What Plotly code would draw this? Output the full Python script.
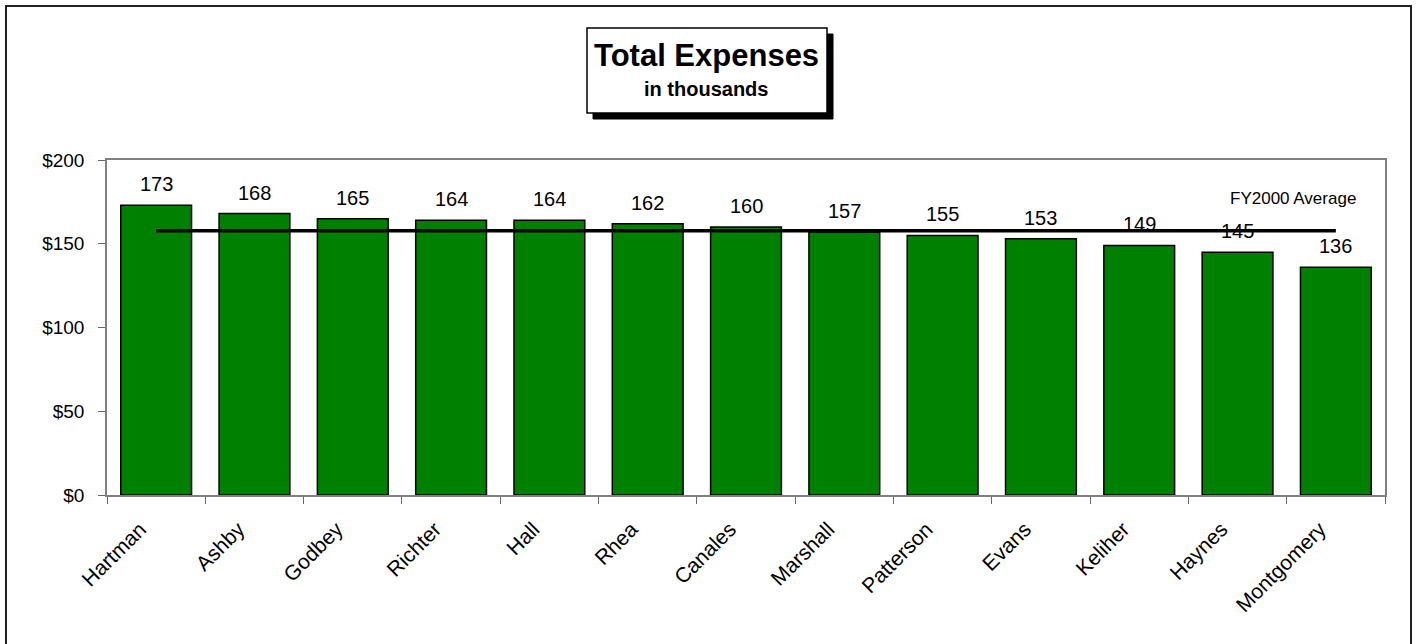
import plotly.graph_objects as go

names = ["Hartman", "Ashby", "Godbey", "Richter", "Hall", "Rhea", "Canales",
         "Marshall", "Patterson", "Evans", "Keliher", "Haynes", "Montgomery"]
expenses = [173, 168, 165, 164, 164, 162, 160, 157, 155, 153, 149, 145, 136]
average_value = 157.8
y_ticks = [0, 50, 100, 150, 200]
y_tick_labels = ["$0", "$50", "$100", "$150", "$200"]

FONT = "Liberation Sans, Arial, sans-serif"

FW, FH = 1418, 644
# plot-area pixel geometry
L, R, T, B = 107, 1385, 160, 495
W, H = R - L, B - T


def px(x):
    return (x - L) / W


def py(y):
    return (B - y) / H


fig = go.Figure()
fig.add_trace(go.Bar(
    x=names, y=expenses,
    marker=dict(color="#008000", line=dict(color="black", width=1.5)),
    hoverinfo="x+y", showlegend=False,
))
fig.add_trace(go.Scatter(
    x=[names[0], names[-1]], y=[average_value, average_value],
    mode="lines", line=dict(color="black", width=3.5),
    showlegend=False, hoverinfo="skip",
))

annotations = []
for n, v in zip(names, expenses):
    annotations.append(dict(
        x=n, y=v, text=str(v), showarrow=False, yanchor="bottom",
        yshift=8, font=dict(family=FONT, size=20, color="black"),
    ))

annotations.append(dict(
    x=px(1358), y=py(198), xref="paper", yref="paper", text="FY2000 Average",
    showarrow=False, xanchor="right", yanchor="middle",
    font=dict(family=FONT, size=17, color="black"),
))
annotations.append(dict(
    x=px(706), y=py(56), xref="paper", yref="paper", text="<b>Total Expenses</b>",
    showarrow=False, xanchor="center", yanchor="middle",
    font=dict(family=FONT, size=31, color="black"),
))
annotations.append(dict(
    x=px(706), y=py(89), xref="paper", yref="paper", text="<b>in thousands</b>",
    showarrow=False, xanchor="center", yanchor="middle",
    font=dict(family=FONT, size=20, color="black"),
))

shapes = [
    # outer frame
    dict(type="rect", xref="paper", yref="paper",
         x0=px(6), x1=px(1411), y0=py(700), y1=py(6),
         line=dict(color="#222222", width=2), layer="below"),
    # title shadow
    dict(type="rect", xref="paper", yref="paper",
         x0=px(593), x1=px(833), y0=py(119), y1=py(34),
         fillcolor="black", line=dict(color="black", width=1)),
    # title box
    dict(type="rect", xref="paper", yref="paper",
         x0=px(587), x1=px(827), y0=py(113), y1=py(28),
         fillcolor="white", line=dict(color="black", width=1.5)),
]

fig.update_layout(
    width=FW, height=FH,
    margin=dict(l=L, r=FW - R, t=T, b=FH - B),
    paper_bgcolor="white", plot_bgcolor="white",
    bargap=0.28,
    annotations=annotations, shapes=shapes,
    font=dict(family=FONT, color="black"),
    xaxis=dict(
        type="category", tickangle=-45, tickson="boundaries",
        ticks="outside", ticklen=7, tickcolor="#666666", tickwidth=1,
        ticklabelstandoff=12, ticklabelshift=-16,
        showline=True, linecolor="#808080", linewidth=1.5, mirror=True,
        showgrid=False, tickfont=dict(family=FONT, size=21, color="black"),
    ),
    yaxis=dict(
        range=[0, 200], tickmode="array", tickvals=y_ticks, ticktext=y_tick_labels,
        ticks="outside", ticklen=7, tickcolor="#666666", tickwidth=1,
        ticklabelstandoff=10,
        showline=True, linecolor="#808080", linewidth=1.5, mirror=True,
        showgrid=False, zeroline=False,
        tickfont=dict(family=FONT, size=19, color="black"),
    ),
)

fig.write_html(
    "out.html",
    config={"displayModeBar": False},
    post_script="document.body.style.margin='0px';document.body.style.overflow='hidden';",
)
